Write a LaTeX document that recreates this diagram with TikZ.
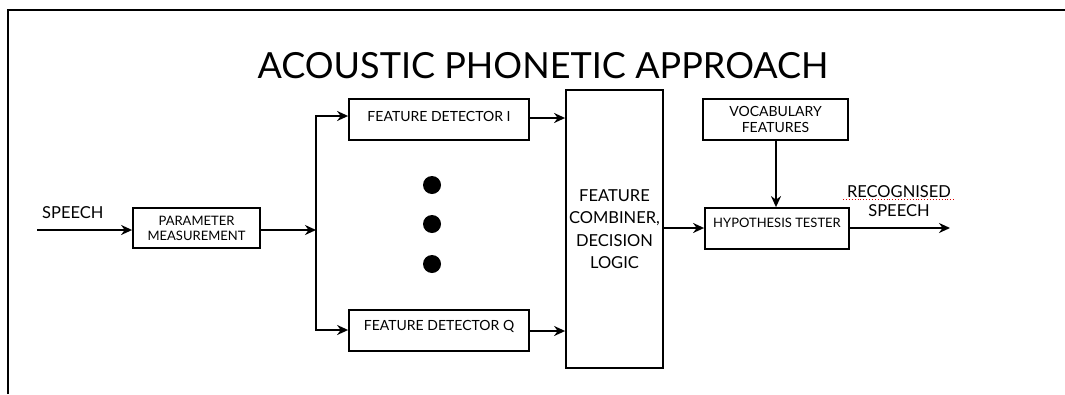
\documentclass[tikz,border=0pt]{standalone}
\usepackage{fontspec}
\setmainfont{Lato}
\usetikzlibrary{arrows.meta}
\begin{document}
\begin{tikzpicture}[x=1pt,y=-1pt,
  box/.style={draw, line width=1.8pt, inner sep=0pt, align=center},
  small/.style={font=\fontsize{13}{15}\selectfont},
  mid/.style={font=\fontsize{14}{15.5}\selectfont},
  arr/.style={line width=2.8pt, -{Stealth[length=11pt,width=10pt]}},
  plain/.style={line width=2.8pt},
  dot/.style={circle, fill=black, minimum size=18pt, inner sep=0pt},
  lbl/.style={font=\fontsize{16.5}{19.5}\selectfont, inner sep=0pt, align=center}
]
\useasboundingbox (0,0) rectangle (1065,394);
\draw[line width=1.8pt] (8,394) -- (8,10) -- (1065,10);

\node[inner sep=0pt, font=\fontsize{36}{40}\selectfont] (title) at (543,66) {ACOUSTIC PHONETIC APPROACH};

\node[box, small, minimum width=127pt, minimum height=40pt] (param) at (196.5,228) {PARAMETER\\MEASUREMENT};
\node[box, minimum width=180pt, minimum height=41pt] (fd1) at (439,119.5) {};
\node[mid, inner sep=0pt] (fd1t) at (439,116) {FEATURE DETECTOR I};
\node[box, minimum width=180pt, minimum height=41pt] (fdq) at (439,330.5) {};
\node[mid, inner sep=0pt] (fdqt) at (439,326) {FEATURE DETECTOR Q};
\node[box, minimum width=97pt, minimum height=278pt, font=\fontsize{16.5}{22.5}\selectfont] (comb) at (614.5,229) {FEATURE\\COMBINER,\\DECISION\\LOGIC};
\node[box, minimum width=144pt, minimum height=41pt] (hyp) at (777,228.5) {};
\node[inner sep=0pt, font=\fontsize{13}{15}\selectfont] (hypt) at (777,223) {HYPOTHESIS TESTER};
\node[box, mid, minimum width=145pt, minimum height=41pt] (vocab) at (775.5,119.5) {VOCABULARY\\FEATURES};

\node[dot] (d1) at (432,185) {};
\node[dot] (d2) at (432,224) {};
\node[dot] (d3) at (432,264) {};

\node[lbl, anchor=west] (speech) at (42,213) {SPEECH};
\node[lbl] (rec) at (899,201) {RECOGNISED\\SPEECH};

\coordinate (in) at (37,230);
\coordinate (split) at (316,230);
\coordinate (splitT) at (316,116);
\coordinate (splitB) at (316,330);
\coordinate (out) at (950,228);

\draw[arr] (in) -- (param.west |- in);
\draw[arr] (param.east |- split) -- (split);
\draw[plain, line cap=rect] (splitT) -- (splitB);
\draw[arr] (splitT) -- (fd1.west |- splitT);
\draw[arr] (splitB) -- (fdq.west |- splitB);
\draw[arr] (fd1.east |- 0,118) -- (comb.west |- 0,118);
\draw[arr] (fdq.east |- 0,331) -- (comb.west |- 0,331);
\draw[arr] (comb.east |- 0,228) -- (hyp.west |- 0,228);
\draw[arr] (vocab.south -| 776,0) -- (hyp.north -| 776,0);
\draw[arr] (hyp.east |- out) -- (out);
\draw[red!85!black, line width=0.9pt, dotted] (843,199) -- (955,199);
\end{tikzpicture}
\end{document}
